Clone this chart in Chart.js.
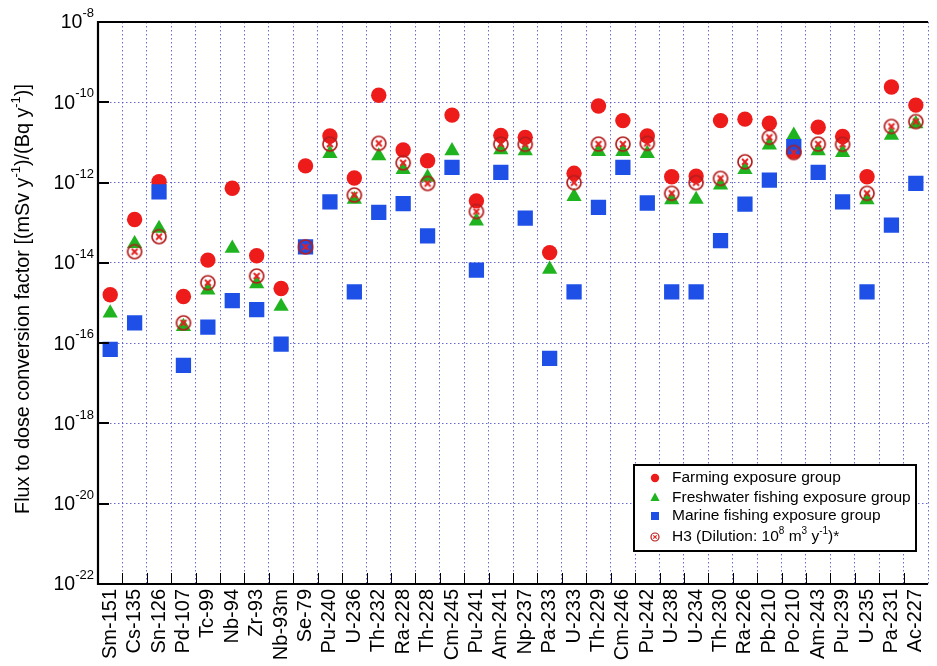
<!DOCTYPE html>
<html>
<head>
<meta charset="utf-8">
<script src="https://cdn.jsdelivr.net/npm/chart.js@4/dist/chart.umd.min.js"></script>
<style>
  html, body { margin: 0; padding: 0; background: #fff; overflow: hidden; }
  #wrap { width: 937px; height: 666px; overflow: hidden; position: relative; }
  canvas { display: block; }
</style>
</head>
<body>
<div id="wrap"><canvas id="c" width="945" height="666"></canvas></div>
<script>
// Nuclides along the x axis
const nuclides = ['Sm-151','Cs-135','Sn-126','Pd-107','Tc-99','Nb-94','Zr-93','Nb-93m','Se-79',
  'Pu-240','U-236','Th-232','Ra-228','Th-228','Cm-245','Pu-241','Am-241','Np-237','Pa-233',
  'U-233','Th-229','Cm-246','Pu-242','U-238','U-234','Th-230','Ra-226','Pb-210','Po-210',
  'Am-243','Pu-239','U-235','Pa-231','Ac-227'];

// Flux to dose conversion factors, (mSv/y)/(Bq/y)
const farming = [1.6e-15,1.2e-13,1.05e-12,1.45e-15,1.17e-14,7.2e-13,1.5e-14,2.3e-15,2.6e-12,
  1.45e-11,1.3e-12,1.5e-10,6.5e-12,3.5e-12,4.8e-11,3.5e-13,1.5e-11,1.34e-11,1.8e-14,
  1.7e-12,8.1e-11,3.5e-11,1.45e-11,1.4e-12,1.45e-12,3.5e-11,3.8e-11,3.0e-11,6.0e-12,
  2.4e-11,1.4e-11,1.4e-12,2.4e-10,8.5e-11];
const freshwater = [5.6e-16,3.0e-14,7.2e-14,2.6e-16,2.1e-15,2.3e-14,3.0e-15,8.2e-16,null,
  5.3e-12,3.8e-13,4.6e-12,2.1e-12,1.35e-12,6.2e-12,1.1e-13,6.5e-12,6.2e-12,6.9e-15,
  4.5e-13,5.9e-12,5.9e-12,5.3e-12,3.7e-13,3.8e-13,8.7e-13,2.1e-12,8.6e-12,1.5e-11,
  6.2e-12,5.6e-12,3.7e-13,1.5e-11,2.9e-11];
const marine = [7.0e-17,3.2e-16,5.9e-13,2.8e-17,2.5e-16,1.15e-15,6.8e-16,9.5e-17,2.5e-14,
  3.3e-13,1.9e-15,1.8e-13,3.0e-13,4.7e-14,2.4e-12,6.6e-15,1.8e-12,1.3e-13,4.2e-17,
  1.9e-15,2.4e-13,2.4e-12,3.1e-13,1.9e-15,1.9e-15,3.6e-14,2.9e-13,1.15e-12,7.8e-12,
  1.8e-12,3.3e-13,1.9e-15,8.7e-14,9.5e-13];
const h3Dilution = [null,1.9e-14,4.5e-14,3.2e-16,3.2e-15,null,4.7e-15,null,2.5e-14,
  9.1e-12,4.9e-13,9.5e-12,3.1e-12,9.5e-13,null,1.9e-13,9.1e-12,9.0e-12,null,
  1.0e-12,9.1e-12,9.1e-12,9.5e-12,5.4e-13,1.0e-12,1.27e-12,3.3e-12,1.34e-11,5.6e-12,
  9.1e-12,9.0e-12,5.4e-13,2.5e-11,3.3e-11];

// Decades labelled on the y axis (powers of ten)
const yTickPowers = [-8,-10,-12,-14,-16,-18,-20,-22];

const FONT = "'Liberation Sans', Arial, Helvetica, sans-serif";
const RED = '#ee1b1b', GREEN = '#1fb41f', BLUE = '#1e4fe6';
const RING = '#b31d1d', CROSS = '#e42020';
const GRID = 'rgba(80,80,200,0.85)';

// circled-cross marker for the H3 series
function drawH3Mark(ctx, x, y, r) {
  ctx.save();
  ctx.strokeStyle = RING;
  ctx.lineWidth = Math.max(1.2, r * 0.24);
  ctx.beginPath(); ctx.arc(x, y, r, 0, Math.PI * 2); ctx.stroke();
  const a = r * 0.42;
  ctx.strokeStyle = CROSS;
  ctx.lineWidth = Math.max(1.2, r * 0.28);
  ctx.beginPath();
  ctx.moveTo(x - a, y - a); ctx.lineTo(x + a, y + a);
  ctx.moveTo(x + a, y - a); ctx.lineTo(x - a, y + a);
  ctx.stroke();
  ctx.restore();
}
const h3Img = document.createElement('canvas');
h3Img.width = 18; h3Img.height = 18;
drawH3Mark(h3Img.getContext('2d'), 9, 9, 7);

// text with superscript runs: parts = [[text, isSup], ...]
function richWidth(ctx, parts, size, supSize) {
  let w = 0;
  for (const [t, sup] of parts) {
    ctx.font = (sup ? supSize : size) + 'px ' + FONT;
    w += ctx.measureText(t).width;
  }
  return w;
}
function drawRich(ctx, parts, x, y, size, supSize, supRise, align) {
  const w = richWidth(ctx, parts, size, supSize);
  let cx = align === 'right' ? x - w : align === 'center' ? x - w / 2 : x;
  ctx.textBaseline = 'middle';
  ctx.textAlign = 'left';
  for (const [t, sup] of parts) {
    ctx.font = (sup ? supSize : size) + 'px ' + FONT;
    ctx.fillText(t, cx, sup ? y - supRise : y);
    cx += ctx.measureText(t).width;
  }
}

const decorations = {
  id: 'decorations',
  afterDraw(chart) {
    const ctx = chart.ctx;
    const a = chart.chartArea;
    const ys = chart.scales.y;
    const n = nuclides.length;
    ctx.save();
    ctx.fillStyle = '#000';
    ctx.strokeStyle = '#000';

    // inward tick marks on the bottom axis at category boundaries
    ctx.lineWidth = 1;
    const step = (a.right - a.left) / n;
    for (let i = 1; i < n; i++) {
      const x = Math.round(a.left + i * step) + 0.5;
      ctx.beginPath(); ctx.moveTo(x, a.bottom); ctx.lineTo(x, a.bottom - 11); ctx.stroke();
    }
    // inward tick marks on the left axis
    ctx.lineWidth = 2;
    for (const p of yTickPowers) {
      const y = Math.round(ys.getPixelForValue(Math.pow(10, p)));
      ctx.beginPath(); ctx.moveTo(a.left, y); ctx.lineTo(a.left + 11, y); ctx.stroke();
    }
    // frame
    ctx.lineWidth = 2.2;
    ctx.beginPath();
    ctx.moveTo(a.right, a.top); ctx.lineTo(a.left, a.top); ctx.lineTo(a.left, a.bottom); ctx.lineTo(a.right, a.bottom);
    ctx.stroke();

    // y tick labels 10^n
    for (const p of yTickPowers) {
      const y = ys.getPixelForValue(Math.pow(10, p));
      drawRich(ctx, [['10', false], [String(p), true]], a.left - 4, y + 1, 19.5, 13, 9.5, 'right');
    }

    // y axis title
    ctx.save();
    ctx.translate(24, 299);
    ctx.rotate(-Math.PI / 2);
    drawRich(ctx, [['Flux to dose conversion factor [(mSv y', false], ['-1', true], [')/(Bq y', false], ['-1', true], [')]', false]],
      0, 0, 19.8, 13, 7.5, 'center');
    ctx.restore();

    // legend
    const L = { x: 634, y: 465, w: 282, h: 86 };
    ctx.fillStyle = '#fff';
    ctx.fillRect(L.x, L.y, L.w, L.h);
    ctx.lineWidth = 2;
    ctx.strokeStyle = '#000';
    ctx.strokeRect(L.x, L.y, L.w, L.h);
    const mx = 655, tx = 672;
    const rows = [478, 497.5, 516, 537];
    // markers
    ctx.fillStyle = RED;
    ctx.beginPath(); ctx.arc(mx, rows[0], 4.2, 0, Math.PI * 2); ctx.fill();
    ctx.fillStyle = GREEN;
    ctx.beginPath(); ctx.moveTo(mx, rows[1] - 5); ctx.lineTo(mx + 4.6, rows[1] + 3.5); ctx.lineTo(mx - 4.6, rows[1] + 3.5); ctx.closePath(); ctx.fill();
    ctx.fillStyle = BLUE;
    ctx.fillRect(mx - 4, rows[2] - 4, 8, 8);
    drawH3Mark(ctx, mx, rows[3], 4);
    // texts
    ctx.fillStyle = '#000';
    drawRich(ctx, [['Farming exposure group', false]], tx, rows[0], 15.5, 10, 6, 'left');
    drawRich(ctx, [['Freshwater fishing exposure group', false]], tx, rows[1], 15.5, 10, 6, 'left');
    drawRich(ctx, [['Marine fishing exposure group', false]], tx, rows[2], 15.5, 10, 6, 'left');
    drawRich(ctx, [['H3 (Dilution: 10', false], ['8', true], [' m', false], ['3', true], [' y', false], ['-1', true], [')*', false]],
      tx, rows[3], 15.5, 10, 6, 'left');
    ctx.restore();
  }
};

const commonPoint = { showLine: false, borderWidth: 0, pointBorderWidth: 0, pointHoverRadius: 0 };

new Chart(document.getElementById('c'), {
  type: 'line',
  data: {
    labels: nuclides,
    datasets: [
      Object.assign({ label: 'Farming exposure group', data: farming, pointStyle: 'circle',
        pointRadius: 7.7, backgroundColor: RED, borderColor: RED, order: 4 }, commonPoint),
      Object.assign({ label: 'Freshwater fishing exposure group', data: freshwater, pointStyle: 'triangle',
        pointRadius: 8.8, backgroundColor: GREEN, borderColor: GREEN, order: 3 }, commonPoint),
      Object.assign({ label: 'Marine fishing exposure group', data: marine, pointStyle: 'rect',
        pointRadius: 10.8, backgroundColor: BLUE, borderColor: BLUE, order: 2 }, commonPoint),
      Object.assign({ label: 'H3 (Dilution: 10^8 m^3 y^-1)*', data: h3Dilution, pointStyle: h3Img,
        pointRadius: 7, backgroundColor: 'rgba(0,0,0,0)', borderColor: RING, order: 1 }, commonPoint)
    ]
  },
  options: {
    responsive: false,
    animation: false,
    devicePixelRatio: 1,
    layout: { padding: { left: 0, top: 22, right: 4, bottom: 0 } },
    plugins: { legend: { display: false }, tooltip: { enabled: false } },
    events: [],
    scales: {
      x: {
        type: 'category',
        offset: true,
        grid: { offset: true, color: GRID, lineWidth: 1, drawTicks: false },
        border: { display: false, dash: [1.5, 2.5] },
        ticks: { autoSkip: false, minRotation: 90, maxRotation: 90, padding: 5, color: '#000',
          font: { size: 20, family: FONT } },
        afterFit(s) { s.height = 82; }
      },
      y: {
        type: 'logarithmic',
        min: 1e-22,
        max: 1e-8,
        grid: { color: GRID, lineWidth: 1, drawTicks: false },
        border: { display: false, dash: [1.5, 2.5] },
        ticks: { display: false },
        afterBuildTicks(s) { s.ticks = yTickPowers.map(p => ({ value: Math.pow(10, p) })); },
        afterFit(s) { s.width = 98; }
      }
    }
  },
  plugins: [decorations]
});
</script>
</body>
</html>
